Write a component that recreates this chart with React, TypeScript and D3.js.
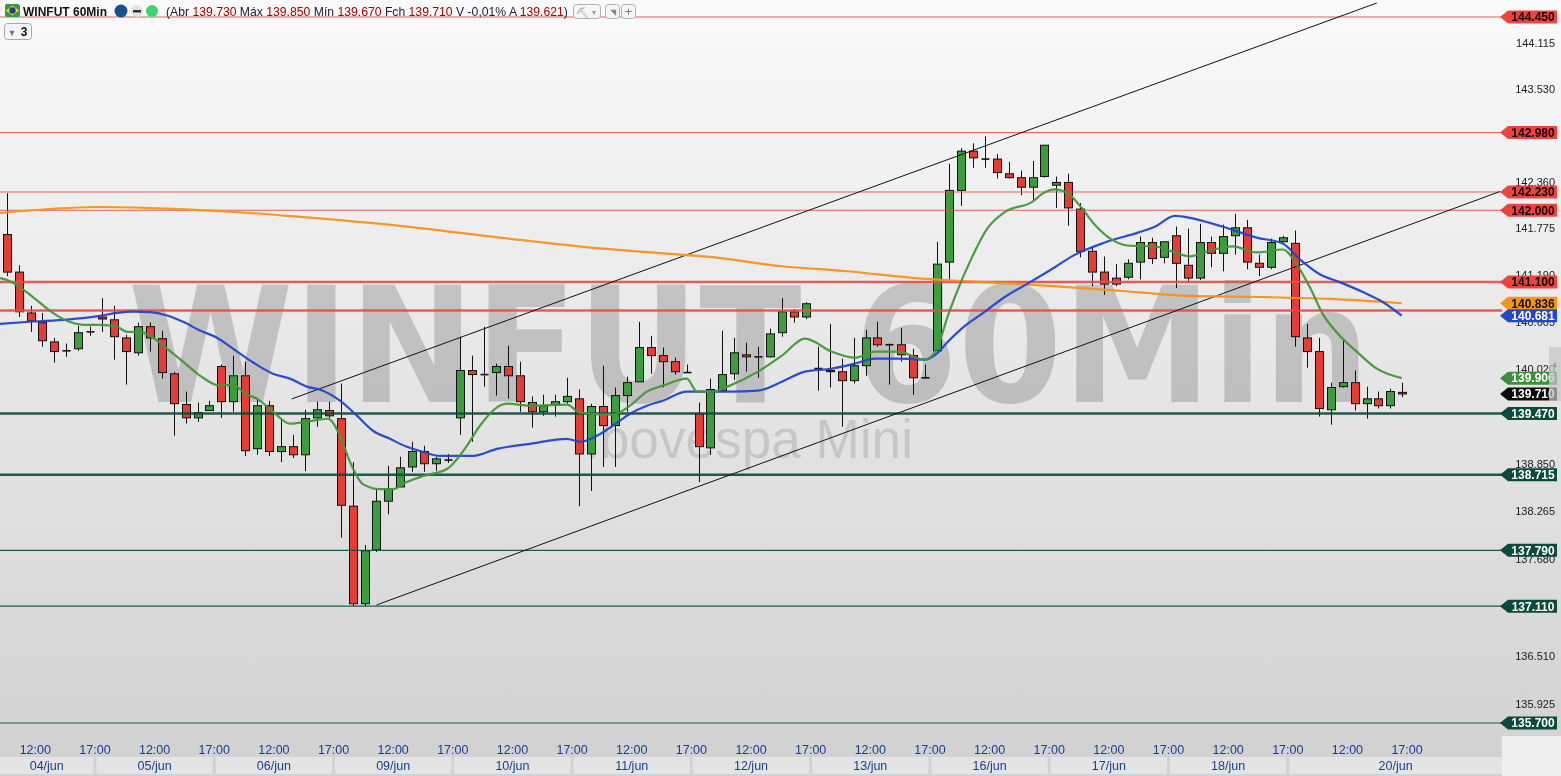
import React from "react";
import * as d3 from "d3";

// ---------------- data ----------------
const dayLabels = ["04/jun", "05/jun", "06/jun", "09/jun", "10/jun", "11/jun", "12/jun", "13/jun", "16/jun", "17/jun", "18/jun", "20/jun"];
const timeTickLabels = ["12:00", "17:00"];
const timeTickBarOffsets = [4.4, 9.4]; // relative to first bar of the session
const firstDayBarOffset = -2;
const barsPerDay = 10;

const candleOpen = [
  141.695, 141.225, 140.715, 140.595, 140.355, 140.245, 140.27, 140.48,
  140.665, 140.63, 140.405, 140.22, 140.545, 140.395, 139.96, 139.58, 139.415, 139.505,
  140.05, 139.615, 139.935, 139.035, 139.565, 139.0, 139.06, 138.96, 139.415, 139.505,
  139.405, 138.33, 137.14, 137.795, 138.39, 138.565, 138.81, 139.0, 138.85, 138.895,
  139.415, 140.0, 139.95, 139.975, 140.05, 139.935, 139.605, 139.49, 139.58, 139.615,
  139.65, 138.97, 139.555, 139.32, 139.69, 139.86, 140.285, 140.185, 140.11, 139.975,
  139.465, 139.045, 139.75, 139.96, 140.195, 140.17, 140.17, 140.47, 140.73, 140.665,
  140.025, 140.0, 139.985, 139.875, 140.06, 140.405, 140.32, 140.32, 140.185, 139.91,
  140.245, 141.35, 142.25, 142.745, 142.645, 142.645, 142.46, 142.41, 142.29, 142.425,
  142.315, 142.35, 142.015, 141.485, 141.225, 141.15, 141.16, 141.35, 141.595, 141.41,
  141.68, 141.31, 141.15, 141.595, 141.46, 141.68, 141.78, 141.335, 141.285, 141.605,
  141.585, 140.405, 140.235, 139.515, 139.8, 139.85, 139.59, 139.65, 139.565, 139.73,
];
const candleHigh = [
  142.215, 141.31, 140.805, 140.715, 140.405, 140.335, 140.555, 140.545,
  140.9, 140.805, 140.445, 140.595, 140.595, 140.495, 139.985, 139.74, 139.605, 139.625,
  140.075, 140.185, 140.11, 139.65, 139.625, 139.405, 139.205, 139.515, 139.615, 139.615,
  139.84, 138.87, 137.855, 138.54, 138.825, 138.935, 139.12, 139.07, 138.935, 138.97,
  140.42, 140.185, 140.545, 140.085, 140.31, 140.11, 139.68, 139.7, 139.7, 139.91,
  139.765, 139.59, 140.06, 139.79, 139.925, 140.605, 140.43, 140.285, 140.16, 140.075,
  139.605, 139.9, 140.495, 140.405, 140.345, 140.295, 140.52, 140.9, 140.765, 140.85,
  140.295, 140.58, 140.145, 140.405, 140.505, 140.605, 140.335, 140.53, 140.27, 140.075,
  141.605, 142.585, 142.785, 142.845, 142.93, 142.71, 142.61, 142.5, 142.62, 142.82,
  142.425, 142.46, 142.09, 141.535, 141.42, 141.325, 141.385, 141.67, 141.655, 141.605,
  141.795, 141.77, 141.83, 141.67, 141.82, 141.955, 141.88, 141.445, 141.645, 141.68,
  141.745, 140.58, 140.405, 139.85, 140.38, 140.0, 139.8, 139.74, 139.775, 139.85,
];
const candleLow = [
  141.175, 140.665, 140.48, 140.295, 140.1, 140.17, 140.245, 140.43,
  140.48, 140.135, 139.825, 140.185, 140.235, 139.9, 139.195, 139.345, 139.365, 139.505,
  139.415, 139.49, 138.945, 138.96, 138.945, 138.87, 138.92, 138.76, 139.305, 139.415,
  137.945, 137.11, 137.11, 137.77, 138.23, 138.565, 138.75, 138.75, 138.76, 138.86,
  139.205, 139.12, 139.8, 139.69, 139.65, 139.49, 139.295, 139.44, 139.43, 139.59,
  138.33, 138.515, 138.81, 138.81, 139.49, 139.86, 139.96, 139.79, 139.95, 139.975,
  138.625, 138.96, 139.74, 139.885, 139.985, 139.91, 140.16, 140.42, 140.595, 140.64,
  139.75, 139.79, 139.305, 139.84, 139.935, 140.295, 139.825, 140.11, 139.7, 139.91,
  140.245, 141.135, 142.055, 142.535, 142.535, 142.4, 142.4, 142.19, 142.125, 142.41,
  142.03, 141.805, 141.41, 141.05, 140.94, 141.05, 141.135, 141.135, 141.325, 141.335,
  141.025, 141.1, 141.125, 141.285, 141.235, 141.445, 141.26, 141.175, 141.26, 141.595,
  140.295, 140.035, 139.43, 139.33, 139.79, 139.505, 139.405, 139.53, 139.53, 139.67,
];
const candleClose = [
  141.225, 140.73, 140.615, 140.37, 140.235, 140.245, 140.47, 140.48,
  140.64, 140.42, 140.235, 140.545, 140.405, 139.975, 139.59, 139.415, 139.48, 139.565,
  139.615, 139.935, 139.01, 139.565, 139.0, 139.06, 138.96, 139.405, 139.515, 139.44,
  138.34, 137.14, 137.785, 138.39, 138.54, 138.8, 139.0, 138.85, 138.91, 138.895,
  140.0, 139.95, 139.95, 140.05, 139.935, 139.615, 139.49, 139.565, 139.615, 139.68,
  138.97, 139.555, 139.32, 139.69, 139.85, 140.285, 140.185, 140.11, 139.985, 139.975,
  139.06, 139.765, 139.95, 140.22, 140.17, 140.17, 140.455, 140.73, 140.665, 140.83,
  140.025, 139.985, 139.875, 140.06, 140.405, 140.32, 140.32, 140.195, 139.91, 139.91,
  141.325, 142.25, 142.745, 142.66, 142.645, 142.475, 142.41, 142.29, 142.41, 142.82,
  142.35, 142.03, 141.485, 141.225, 141.075, 141.075, 141.335, 141.595, 141.395, 141.605,
  141.335, 141.15, 141.595, 141.46, 141.67, 141.78, 141.35, 141.285, 141.595, 141.655,
  140.42, 140.235, 139.53, 139.79, 139.85, 139.59, 139.65, 139.565, 139.74, 139.71,
];

// moving averages: [bar index, price]
const fastMA: [number, number][] = [
  [-0.56, 141.15], [0.28, 141.112], [2.2, 140.914], [3.63, 140.741], [5.05, 140.617], [6.4, 140.568],
  [7.82, 140.568], [9.25, 140.543], [10.08, 140.481], [11.17, 140.481], [12.01, 140.432], [13.44, 140.271],
  [14.78, 140.11], [16.2, 139.937], [17.88, 139.813], [18.97, 139.825], [19.97, 139.714], [20.98, 139.652],
  [22.32, 139.491], [23.75, 139.343], [25.17, 139.367], [26.93, 139.404], [27.94, 139.194], [28.78, 138.872],
  [29.87, 138.6], [31.29, 138.538], [32.38, 138.538], [33.55, 138.625], [34.9, 138.699], [36.91, 138.786],
  [38.58, 139.07], [39.67, 139.318], [41.93, 139.59], [43.87, 139.565], [46.97, 139.578], [48.06, 139.479],
  [50.82, 139.454], [52.25, 139.565], [53.67, 139.739], [55.01, 139.813], [57.02, 139.9], [57.86, 139.739],
  [59.2, 139.739], [60.63, 139.813], [62.98, 139.986], [64.99, 140.184], [66.92, 140.395], [69.18, 140.234],
  [71.11, 140.159], [72.78, 140.234], [74.71, 140.234], [76.98, 140.135], [77.98, 140.271], [78.9, 140.679],
  [79.49, 140.914], [80.92, 141.409], [82.26, 141.781], [83.68, 141.979], [85.94, 142.102], [87.03, 142.226],
  [87.87, 142.263], [88.96, 142.214], [90.13, 142.028], [91.22, 141.818], [92.65, 141.632], [93.99, 141.558],
  [96.25, 141.546], [97.68, 141.484], [99.19, 141.422], [100.61, 141.484], [102.79, 141.546], [104.8, 141.471],
  [106.98, 141.508], [108.15, 141.323], [109.24, 141.038], [110.33, 140.704], [111.76, 140.432], [113.18, 140.234],
  [114.86, 140.023], [116.95, 139.906],
];
const midMA: [number, number][] = [
  [-0.56, 140.58], [2.2, 140.609], [5.05, 140.633], [7.82, 140.679], [9.25, 140.716], [10.59, 140.732],
  [12.01, 140.725], [13.44, 140.683], [14.78, 140.605], [16.2, 140.497], [17.63, 140.407], [18.97, 140.271],
  [20.39, 140.126], [22.32, 139.961], [23.75, 139.9], [25.17, 139.801], [26.51, 139.751], [27.94, 139.627],
  [29.36, 139.442], [30.7, 139.256], [32.13, 139.157], [33.55, 139.058], [34.9, 138.996], [36.32, 138.947],
  [37.16, 138.947], [39.09, 138.947], [41.1, 139.033], [43.87, 139.095], [46.97, 139.157], [48.06, 139.12],
  [49.48, 139.194], [50.82, 139.318], [52.25, 139.466], [53.67, 139.565], [55.01, 139.627], [57.02, 139.739],
  [60.63, 139.739], [62.98, 139.751], [64.99, 139.862], [66.92, 139.986], [69.18, 140.023], [71.11, 140.085],
  [72.78, 140.147], [74.71, 140.147], [76.98, 140.135], [77.98, 140.209], [78.9, 140.357], [80.33, 140.555],
  [81.75, 140.704], [83.68, 140.914], [85.94, 141.112], [87.87, 141.286], [89.29, 141.422], [92.06, 141.595],
  [94.83, 141.719], [96.25, 141.793], [97.93, 141.929], [99.19, 141.904], [101.95, 141.793], [104.8, 141.657],
  [106.98, 141.583], [108.41, 141.385], [110.08, 141.199], [111.76, 141.1], [113.69, 140.976], [115.36, 140.852],
  [116.95, 140.681],
];
const slowMA: [number, number][] = [
  [-0.56, 141.966], [3.63, 142.016], [7.4, 142.041], [12.01, 142.028], [16.2, 142.003], [20.39, 141.966],
  [24.58, 141.917], [32.97, 141.805], [41.35, 141.657], [49.73, 141.521], [53.93, 141.471], [59.37, 141.409],
  [64.99, 141.298], [70.52, 141.236], [76.14, 141.15], [80.33, 141.112], [85.1, 141.075], [93.49, 140.989],
  [99.19, 140.927], [105.05, 140.914], [110.92, 140.89], [116.95, 140.836],
];

const upperTrend: [number, number][] = [[23.89, 139.648], [114.86, 144.629]];
const lowerTrend: [number, number][] = [[31.01, 137.125], [125.17, 142.235]];

const resistanceLevels = [144.45, 142.98, 142.23, 142.0, 141.1, 140.745];
const supportLevels = [139.47, 138.715, 137.79, 137.11, 135.7];
const emphasizedLevels = [141.1, 140.745, 139.47, 138.715];
const untaggedLevels = [140.745];

// axis labels that are visible (the others sit fully under level tags)
const priceTicks = [144.115, 143.53, 142.36, 141.775, 141.19, 140.605, 140.02, 138.85, 138.265, 137.68, 136.51, 135.925];

const hdrSymbol = "WINFUT 60Min";
const hdrOpen = 139.73;
const hdrHigh = 139.85;
const hdrLow = 139.67;
const hdrClose = 139.71;
const hdrVar = "-0,01%";
const hdrAvg = 139.621;

// ---------------- styles ----------------
const W = 1561;
const H = 776;
const PLOT_R = 1502;
const PLOT_B = 736;
const FONT = "'Liberation Sans', Arial, sans-serif";
const RED = "#e63c36";
const GREEN = "#3d9c3d";
const RED_LINE = "#e0504b";
const TEAL = "#0e4a3b";
const NAVY = "#1e3c8c";

const fmt = (v: number) => v.toFixed(3);

function Tag({ y, text, fill, color }: { y: number; text: string; fill: string; color: string }) {
  const h = 6.5;
  const pts = `1500,${y} 1508,${y - h} 1557,${y - h} 1557,${y + h} 1508,${y + h}`;
  return (
    <g>
      <polygon points={pts} fill={fill} />
      <text x={1533} y={y} dy="0.36em" textAnchor="middle" fontFamily={FONT} fontWeight="bold" fontSize={12} fill={color}>
        {text}
      </text>
    </g>
  );
}

export default function App() {
  const x = d3.scaleLinear().domain([0, 117]).range([6.7, 1402.3]);
  const y = d3.scaleLog().domain([135.7, 144.45]).range([723, 17]);

  const line = d3
    .line<[number, number]>()
    .x((d) => x(d[0]))
    .y((d) => y(d[1]))
    .curve(d3.curveMonotoneX);

  const seps = dayLabels.map((_, d) => x(firstDayBarOffset + d * barsPerDay - 0.6));

  const lastClose = candleClose[candleClose.length - 1];
  const maTags = [
    { v: slowMA[slowMA.length - 1][1], fill: "#f7931e", color: "#111" },
    { v: midMA[midMA.length - 1][1], fill: "#2446c8", color: "#fff" },
    { v: fastMA[fastMA.length - 1][1], fill: "#3c8f3c", color: "#fff" },
    { v: lastClose, fill: "#0a0a0a", color: "#fff" },
  ];

  return (
    <div style={{ position: "fixed", left: 0, top: 0, width: W, height: H, overflow: "hidden" }}>
      <svg width={W} height={H} style={{ display: "block" }}>
        <defs>
          <linearGradient id="bg" x1="0" y1="0" x2="0" y2="1">
            <stop offset="0" stopColor="#fafafa" />
            <stop offset="1" stopColor="#d3d3d3" />
          </linearGradient>
          <clipPath id="plot">
            <rect x={0} y={0} width={PLOT_R} height={PLOT_B} />
          </clipPath>
        </defs>

        {/* background */}
        <rect x={0} y={0} width={W} height={PLOT_B} fill="url(#bg)" />
        <rect x={0} y={PLOT_B} width={PLOT_R} height={H - PLOT_B} fill="#d2d2d2" />
        <rect x={PLOT_R} y={PLOT_B} width={W - PLOT_R} height={H - PLOT_B} fill="#efefef" />

        <g clipPath="url(#plot)">
          {/* watermark */}
          <text x={128} y={402} fontFamily="'DejaVu Sans', sans-serif" fontWeight="bold" fontSize={160}
            textLength={1242} lengthAdjust="spacingAndGlyphs" fill="#000" fillOpacity={0.17}>
            {hdrSymbol}
          </text>
          <text x={585} y={458} fontFamily={FONT} fontSize={56} textLength={328} lengthAdjust="spacingAndGlyphs"
            fill="#000" fillOpacity={0.12}>
            Ibovespa Mini
          </text>

          {/* candles */}
          {candleOpen.map((o, i) => {
            const c = candleClose[i];
            const cx = Math.round(x(i));
            const yo = y(o);
            const yc = y(c);
            const top = Math.min(yo, yc);
            const bot = Math.max(yo, yc);
            const col = c > o ? GREEN : c < o ? RED : null;
            return (
              <g key={i}>
                <line x1={cx + 0.5} x2={cx + 0.5} y1={y(candleHigh[i])} y2={y(candleLow[i])} stroke="#111" strokeWidth={1} />
                {col ? (
                  <rect x={cx - 3.5} y={top} width={8} height={Math.max(bot - top, 1)} fill={col} stroke="#111" strokeWidth={1} />
                ) : (
                  <line x1={cx - 3.5} x2={cx + 4.5} y1={yo} y2={yo} stroke="#111" strokeWidth={1.6} />
                )}
              </g>
            );
          })}

          {/* horizontal levels */}
          {resistanceLevels.map((v) => (
            <line key={"r" + v} x1={0} x2={PLOT_R} y1={y(v)} y2={y(v)} stroke={RED_LINE}
              strokeWidth={emphasizedLevels.includes(v) ? 2.5 : 1} strokeOpacity={0.9} />
          ))}
          {supportLevels.map((v) => (
            <line key={"s" + v} x1={0} x2={PLOT_R} y1={y(v)} y2={y(v)} stroke={TEAL}
              strokeWidth={emphasizedLevels.includes(v) ? 2.5 : 1.2} strokeOpacity={0.9} />
          ))}

          {/* trend lines */}
          {[upperTrend, lowerTrend].map((t, i) => (
            <line key={"t" + i} x1={x(t[0][0])} y1={y(t[0][1])} x2={x(t[1][0])} y2={y(t[1][1])} stroke="#111" strokeWidth={1} />
          ))}

          {/* moving averages */}
          <path d={line(slowMA) || ""} fill="none" stroke="#f7921a" strokeWidth={2.2} strokeOpacity={0.95} />
          <path d={line(midMA) || ""} fill="none" stroke="#2144cc" strokeWidth={2.2} strokeOpacity={0.95} />
          <path d={line(fastMA) || ""} fill="none" stroke="#45963a" strokeWidth={2.2} strokeOpacity={0.95} />
        </g>

        {/* price axis tick labels */}
        {priceTicks.map((v) => (
          <text key={"pt" + v} x={1555} y={y(v)} dy="0.36em" textAnchor="end" fontFamily={FONT} fontSize={11} fill="#1a1a1a">
            {fmt(v)}
          </text>
        ))}

        {/* level tags */}
        {resistanceLevels.filter((v) => !untaggedLevels.includes(v)).map((v) => (
          <Tag key={"rt" + v} y={y(v)} text={fmt(v)} fill="#e8463f" color="#1a0000" />
        ))}
        {supportLevels.map((v) => (
          <Tag key={"st" + v} y={y(v)} text={fmt(v)} fill={TEAL} color="#fff" />
        ))}
        {maTags.map((t, i) => (
          <Tag key={"mt" + i} y={y(t.v)} text={fmt(t.v)} fill={t.fill} color={t.color} />
        ))}

        {/* collapse strip */}
        <rect x={1549} y={347} width={12} height={54} fill="#c4c4c4" fillOpacity={0.7} />
        <text x={1555} y={368} textAnchor="middle" fontFamily={FONT} fontSize={11} fill="#666">‹</text>

        {/* time axis */}
        {dayLabels.map((lab, d) => {
          const x0 = d === 0 ? 0 : seps[d] + 1.5;
          const x1 = d === dayLabels.length - 1 ? PLOT_R : seps[d + 1] - 1.5;
          return (
            <g key={"day" + d}>
              <rect x={x0} y={757} width={x1 - x0} height={17} fill="#e4e4e4" />
              <text x={(x0 + x1) / 2} y={770} textAnchor="middle" fontFamily={FONT} fontSize={12.5} fill={NAVY}>
                {lab}
              </text>
              {timeTickLabels.map((t, k) => (
                <text key={t} x={x(firstDayBarOffset + d * barsPerDay + timeTickBarOffsets[k])} y={753.5}
                  textAnchor="middle" fontFamily={FONT} fontSize={12.5} fill={NAVY}>
                  {t}
                </text>
              ))}
            </g>
          );
        })}

        {/* header */}
        <g>
          <rect x={5} y={4} width={15} height={13} rx={2} fill="#2f9d45" />
          <polygon points="12.5,5.5 19,10.5 12.5,15.5 6,10.5" fill="#f5d020" />
          <circle cx={12.5} cy={10.5} r={3.2} fill="#1f3f8f" />
          <text x={23} y={16} fontFamily={FONT} fontWeight="bold" fontSize={12} fill="#111">{hdrSymbol}</text>
          <circle cx={121} cy={11} r={6.5} fill="#1d4f8e" />
          <circle cx={137} cy={11} r={6} fill="#e2e2e2" />
          <rect x={133} y={10} width={8} height={2.5} fill="#333" />
          <circle cx={152} cy={11} r={6} fill="#40d26c" />
          <text x={166} y={16} fontFamily={FONT} fontSize={12.2} fill="#1a1a3a">
            (Abr <tspan fill="#a00000">{fmt(hdrOpen)}</tspan> Máx <tspan fill="#a00000">{fmt(hdrHigh)}</tspan> Mín{" "}
            <tspan fill="#a00000">{fmt(hdrLow)}</tspan> Fch <tspan fill="#a00000">{fmt(hdrClose)}</tspan> V {hdrVar} A{" "}
            <tspan fill="#a00000">{fmt(hdrAvg)}</tspan>)
          </text>
          <rect x={573.5} y={4.5} width={27} height={14} rx={3} fill="#f6f6f6" stroke="#b0b0b0" />
          <text x={582} y={15.5} textAnchor="middle" fontFamily={FONT} fontSize={10} fill="#aaa">⛏</text>
          <text x={594} y={15} textAnchor="middle" fontFamily={FONT} fontSize={8} fill="#999">▾</text>
          <rect x={605.5} y={4.5} width={14} height={14} rx={3} fill="#f6f6f6" stroke="#b0b0b0" />
          <text x={612.5} y={15} textAnchor="middle" fontFamily={FONT} fontSize={8} fill="#888">◥</text>
          <rect x={621.5} y={4.5} width={14} height={14} rx={3} fill="#f6f6f6" stroke="#b0b0b0" />
          <text x={628.5} y={16} textAnchor="middle" fontFamily={FONT} fontSize={13} fill="#777">+</text>
          <rect x={4.5} y={23.5} width={27} height={16} rx={3} fill="#f5f5f5" stroke="#a8a8a8" />
          <text x={12} y={35.5} textAnchor="middle" fontFamily={FONT} fontSize={9} fill="#777">▼</text>
          <text x={24} y={36} textAnchor="middle" fontFamily={FONT} fontWeight="bold" fontSize={12} fill="#111">3</text>
        </g>
      </svg>
    </div>
  );
}
